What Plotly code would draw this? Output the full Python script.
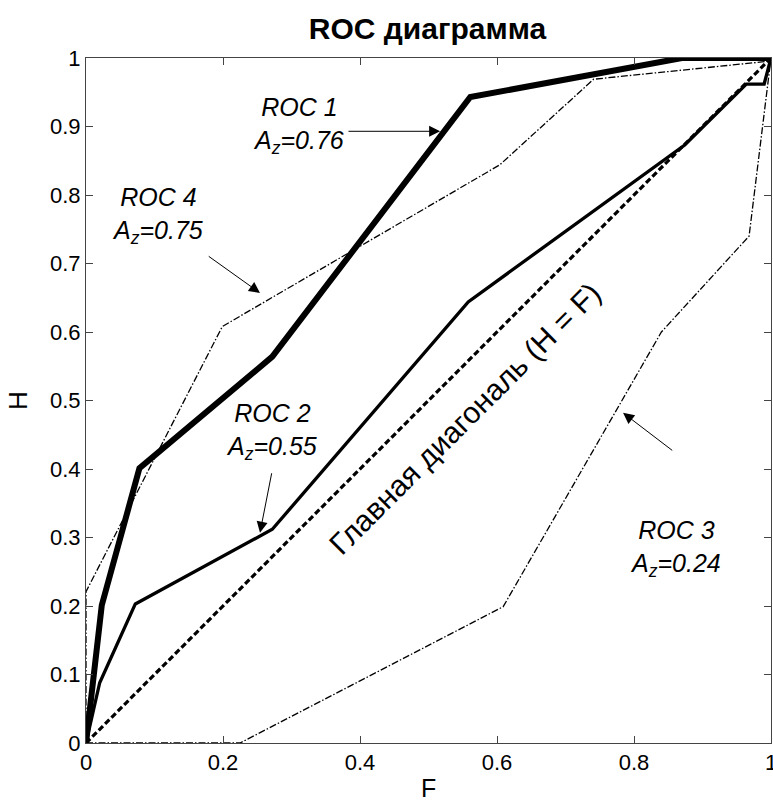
import plotly.graph_objects as go

# ---- data ----
roc1_F = [0, 0.023, 0.078, 0.272, 0.561, 0.870, 1.0]
roc1_H = [0, 0.201, 0.401, 0.564, 0.943, 1.0, 1.0]

roc2_F = [0, 0.020, 0.072, 0.272, 0.558, 0.874, 0.964, 0.990, 1.0]
roc2_H = [0, 0.088, 0.203, 0.312, 0.644, 0.873, 0.962, 0.962, 1.0]

roc3_F = [0, 0.225, 0.609, 0.840, 0.968, 1.0]
roc3_H = [0, 0.0, 0.199, 0.600, 0.740, 1.0]

roc4_F = [0, 0, 0.199, 0.604, 0.741, 0.994, 1.0]
roc4_H = [0, 0.221, 0.608, 0.844, 0.969, 0.995, 1.0]

diag_F = [0, 1]
diag_H = [0, 1]

x_ticks = [0, 0.2, 0.4, 0.6, 0.8, 1]
x_labels = ["0", "0.2", "0.4", "0.6", "0.8", "1"]
y_ticks = [0, 0.1, 0.2, 0.3, 0.4, 0.5, 0.6, 0.7, 0.8, 0.9, 1]
y_labels = ["0", "0.1", "0.2", "0.3", "0.4", "0.5", "0.6", "0.7", "0.8", "0.9", "1"]

FONT = "Liberation Sans, Arial, sans-serif"

fig = go.Figure()
fig.add_trace(go.Scatter(x=roc4_F, y=roc4_H, mode="lines",
                         line=dict(color="black", width=1.3, dash="7px,2px,1.5px,2px")))
fig.add_trace(go.Scatter(x=roc3_F, y=roc3_H, mode="lines",
                         line=dict(color="black", width=1.3, dash="7px,2px,1.5px,2px")))
fig.add_trace(go.Scatter(x=diag_F, y=diag_H, mode="lines",
                         line=dict(color="black", width=3.2, dash="6px,3px")))
fig.add_trace(go.Scatter(x=roc2_F, y=roc2_H, mode="lines",
                         line=dict(color="black", width=3.3)))
fig.add_trace(go.Scatter(x=roc1_F, y=roc1_H, mode="lines",
                         line=dict(color="black", width=6)))

lab_font = dict(family=FONT, size=25, color="black")


def label(x, y, name, az):
    fig.add_annotation(x=x, y=y, xref="x", yref="y", showarrow=False,
                       text=f"<i>{name}</i><br><i>A<sub>z</sub>={az}</i>",
                       font=lab_font, align="center")


def arrow(x, y, ax, ay):
    fig.add_annotation(x=x, y=y, ax=ax, ay=ay, xref="x", yref="y",
                       axref="x", ayref="y", text="", showarrow=True,
                       arrowhead=2, arrowsize=2.2, arrowwidth=1, arrowcolor="black")


label(0.31, 0.902, "ROC 1", "0.76")
arrow(0.517, 0.893, 0.381, 0.893)
label(0.105, 0.770, "ROC 4", "0.75")
arrow(0.254, 0.657, 0.177, 0.712)
label(0.2715, 0.455, "ROC 2", "0.55")
arrow(0.254, 0.307, 0.2715, 0.396)
label(0.860, 0.284, "ROC 3", "0.24")
arrow(0.784, 0.482, 0.858, 0.4255)

fig.add_annotation(x=0.553, y=0.474, xref="x", yref="y", showarrow=False,
                   text="Главная диагональ (H = F)", textangle=-45,
                   font=dict(family=FONT, size=30, color="black"))

# x-axis title placed as a paper annotation so it sits right at the bottom
fig.add_annotation(x=0.5, y=-0.0657, xref="paper", yref="paper", showarrow=False,
                   text="F", yanchor="middle",
                   font=dict(family=FONT, size=25, color="black"))

fig.update_layout(
    width=773, height=802,
    margin=dict(l=86, r=2, t=58, b=59, autoexpand=False),
    paper_bgcolor="white", plot_bgcolor="white",
    showlegend=False,
    title=dict(text="<b>ROC диаграмма</b>", x=0.553, xanchor="center",
               y=0.965, yanchor="middle",
               font=dict(family=FONT, size=30, color="black")),
    font=dict(family=FONT, size=22, color="black"),
)
axis_common = dict(showgrid=False, zeroline=False, showline=True, linecolor="#444",
                   linewidth=1, mirror="ticks", ticks="inside", ticklen=7,
                   tickcolor="#444", ticklabeloverflow="allow",
                   tickfont=dict(family=FONT, size=22, color="black"))
fig.update_xaxes(range=[0, 1], tickvals=x_ticks, ticktext=x_labels, **axis_common)
fig.update_yaxes(range=[0, 1], tickvals=y_ticks, ticktext=y_labels,
                 title=dict(text="H", font=dict(family=FONT, size=26), standoff=14),
                 **axis_common)

fig.write_html("out.html", config={"displayModeBar": False},
               post_script="document.body.style.margin='0';document.body.style.overflow='hidden';")
